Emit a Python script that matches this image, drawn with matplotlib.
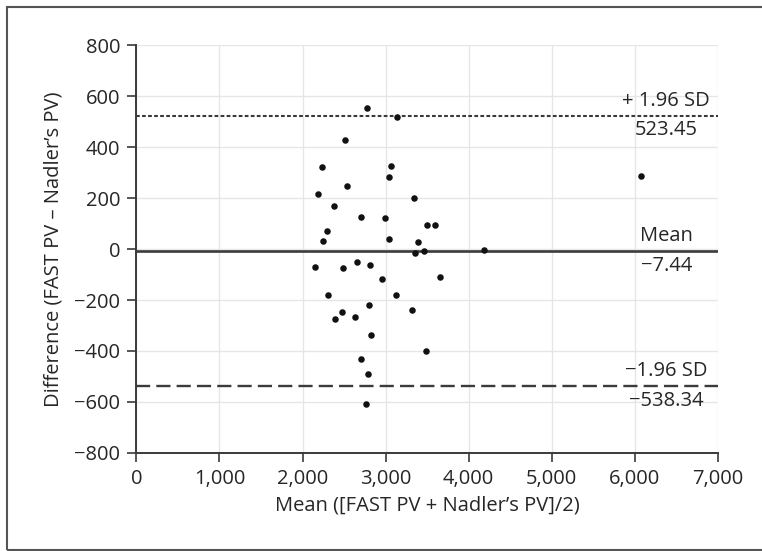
import matplotlib.pyplot as plt
from matplotlib.patches import Rectangle

# Bland-Altman data: mean of both methods vs difference
mean_pv = [2781, 2512, 2231, 2540, 2187, 2380, 2705, 2299, 2247, 2154,
           2492, 2657, 2809, 2958, 2311, 2797, 2476, 2388, 2637, 2821,
           2705, 2785, 2765, 3142, 3062, 3046, 3343, 2994, 3504, 3593,
           3038, 3395, 3355, 3464, 4183, 3660, 3130, 3323, 3492, 6078]
diff_pv = [555, 428, 322, 247, 215, 169, 125, 72, 30, -71,
           -74, -50, -64, -118, -179, -218, -248, -273, -267, -338,
           -433, -491, -607, 517, 327, 284, 201, 123, 95, 95,
           39, 29, -17, -9, -4, -109, -179, -240, -401, 288]

mean_diff = -7.44
upper_loa = 523.45
lower_loa = -538.34

x_ticks = [0, 1000, 2000, 3000, 4000, 5000, 6000, 7000]
y_ticks = [-800, -600, -400, -200, 0, 200, 400, 600, 800]

plt.rcParams['font.family'] = ['Open Sans', 'DejaVu Sans']
txt = '#262626'
line_c = '#3a3a3a'

fig = plt.figure(figsize=(7.62, 5.51), dpi=100)
ax = fig.add_axes([0.179, 0.178, 0.763, 0.740])

ax.scatter(mean_pv, diff_pv, s=22, color='#111111', zorder=3, linewidths=0)

ax.axhline(upper_loa, color=line_c, lw=1.5, dashes=(1.8, 1.1), zorder=2)
ax.axhline(mean_diff, color=line_c, lw=1.9, zorder=2)
ax.axhline(lower_loa, color=line_c, lw=1.7, dashes=(6.0, 2.6), zorder=2)

lx = 6380
off = 58
fs = 14.5
ax.text(lx, upper_loa + off, '+ 1.96 SD', ha='center', va='center', fontsize=fs, color=txt)
ax.text(lx, upper_loa - off, '523.45', ha='center', va='center', fontsize=fs, color=txt)
ax.text(lx, mean_diff + off, 'Mean', ha='center', va='center', fontsize=fs, color=txt)
ax.text(lx, mean_diff - off, '\u22127.44', ha='center', va='center', fontsize=fs, color=txt)
ax.text(lx, lower_loa + off, '\u22121.96 SD', ha='center', va='center', fontsize=fs, color=txt)
ax.text(lx, lower_loa - off, '\u2212538.34', ha='center', va='center', fontsize=fs, color=txt)

ax.set_xlim(0, 7000)
ax.set_ylim(-800, 800)
ax.set_xticks(x_ticks)
ax.set_xticklabels([f'{v:,}' for v in x_ticks])
ax.set_yticks(y_ticks)
ax.set_yticklabels([f'{v}'.replace('-', '\u2212') for v in y_ticks])
ax.grid(True, color='#e6e6e6', lw=1.0, zorder=0)
ax.set_axisbelow(True)

for s in ['top', 'right']:
    ax.spines[s].set_visible(False)
for s in ['left', 'bottom']:
    ax.spines[s].set_color(line_c)
    ax.spines[s].set_linewidth(1.4)
    ax.spines[s].set_zorder(4)
ax.tick_params(direction='out', length=6.5, width=1.2, color=line_c,
               labelsize=fs, labelcolor=txt, pad=5)

ax.set_xlabel('Mean ([FAST PV + Nadler\u2019s PV]/2)', fontsize=fs, color=txt, labelpad=5)
ax.set_ylabel('Difference (FAST PV \u2013 Nadler\u2019s PV)', fontsize=fs, color=txt, labelpad=8)

# outer frame (right side falls outside the image)
fig.add_artist(Rectangle((0.0098, 0.0018), 1.2, 0.986, transform=fig.transFigure,
                         fill=False, ec='#555555', lw=1.5))

plt.savefig('out.png', dpi=100)
